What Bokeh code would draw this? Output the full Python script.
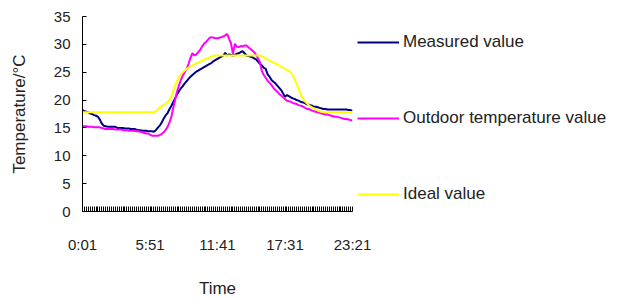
from bokeh.plotting import figure
from bokeh.models import Range1d, FixedTicker, Legend, LegendItem
from bokeh.embed import file_html
from bokeh.resources import INLINE

# --- data (10-minute samples from 0:01 to 23:21) ---
times = [f"{(1 + 10 * i) // 60}:{(1 + 10 * i) % 60:02d}" for i in range(141)]
tick_labels = ["0:01", "5:51", "11:41", "17:31", "23:21"]

measured = [
    18.2, 18.0, 17.9, 17.8, 17.6, 17.5, 17.3, 17.2,
    17.0, 16.5, 15.8, 15.4,
    15.3, 15.2, 15.2, 15.2, 15.2, 15.2, 15.0, 15.0, 15.0, 15.0, 14.9, 14.9, 14.9, 14.8,
    14.8, 14.8, 14.7, 14.6, 14.6, 14.5, 14.5, 14.5, 14.4, 14.4, 14.4, 14.3,
    14.6, 15.0, 15.4, 15.9, 16.6, 17.2, 17.6, 18.3, 18.9, 19.6,
    20.3, 21.0, 21.6, 22.1, 22.5, 23.0, 23.4, 23.8, 24.2, 24.5,
    24.8, 25.1, 25.3, 25.5, 25.7, 25.9, 26.1, 26.3, 26.5, 26.7,
    27.0, 27.2, 27.4, 27.6, 27.8, 28.0, 28.5, 28.0, 28.2, 28.1,
    28.0, 28.1, 28.3, 28.4, 28.6, 28.8, 28.4, 28.0, 27.9, 27.8,
    27.7, 27.5, 27.3, 26.9, 26.5, 26.2, 25.8, 25.6, 24.6, 24.2,
    23.6, 23.3, 23.0, 22.6, 22.2, 21.8, 21.2, 20.6, 20.9, 20.7,
    20.5, 20.3, 20.2, 20.0, 19.9, 19.7, 19.6, 19.5, 19.3, 19.2,
    19.1, 19.0, 18.8, 18.8, 18.7, 18.6, 18.5, 18.4, 18.4, 18.3,
    18.3, 18.3, 18.3, 18.3, 18.3, 18.3, 18.3, 18.3, 18.3, 18.3, 18.2, 18.2, 18.1,
]

outdoor = [
    15.3, 15.3, 15.3, 15.2, 15.2, 15.2, 15.1, 15.1, 15.1, 15.1,
    15.0, 14.9, 14.8, 14.8, 14.8, 14.8, 14.8, 14.7, 14.7, 14.7,
    14.7, 14.6, 14.6, 14.6, 14.5, 14.5, 14.5, 14.5, 14.4, 14.4,
    14.3, 14.2, 14.1, 14.0, 14.0, 13.8, 13.6, 13.6, 13.6, 13.6,
    13.7, 13.9, 14.2, 14.6, 15.1, 15.9, 16.9, 18.5, 20.0, 21.5,
    22.6, 23.6, 24.4, 25.0, 25.6, 26.5, 27.6, 28.4, 28.0, 28.2,
    28.6, 29.0, 29.6, 30.1, 30.4, 30.8, 31.2, 31.3, 31.2, 31.1,
    31.1, 31.2, 31.3, 31.4, 31.6, 31.9, 31.0, 30.2, 28.3, 30.1,
    29.6, 29.5, 29.7, 29.6, 29.8, 29.8, 29.5, 29.2, 28.9, 28.6,
    28.1, 27.5, 26.8, 25.2, 24.5, 24.0, 23.5, 23.1, 22.7, 22.2,
    21.8, 21.5, 21.1, 20.8, 20.5, 20.2, 19.9, 19.8, 19.7, 19.5,
    19.4, 19.3, 19.1, 19.0, 18.9, 18.7, 18.5, 18.4, 18.3, 18.1,
    18.0, 17.9, 17.8, 17.7, 17.6, 17.5, 17.4, 17.4, 17.3, 17.2,
    17.1, 17.0, 17.0, 16.9, 16.8, 16.7, 16.6, 16.6, 16.5, 16.4, 16.4,
]

ideal = [
    17.8, 17.8, 17.8, 17.8, 17.8, 17.8, 17.8, 17.8, 17.8, 17.8,
    17.8, 17.8, 17.8, 17.8, 17.8, 17.8, 17.8, 17.8, 17.8, 17.8,
    17.8, 17.8, 17.8, 17.8, 17.8, 17.8, 17.8, 17.8, 17.8, 17.8,
    17.8, 17.8, 17.8, 17.8, 17.8, 17.8, 17.8, 17.8, 18.0, 18.3,
    18.6, 18.9, 19.1, 19.3, 19.6, 19.9, 20.6, 21.6, 22.6, 23.4,
    24.1, 24.7, 25.0, 25.3, 25.6, 25.8, 26.0, 26.2, 26.4, 26.6,
    26.7, 26.9, 27.0, 27.2, 27.4, 27.5, 27.7, 27.8, 28.0, 28.0,
    28.0, 28.0, 28.0, 28.0, 28.0, 28.0, 28.0, 28.0, 28.0, 28.0,
    28.0, 28.0, 28.0, 28.0, 28.0, 28.0, 28.0, 28.0, 28.0, 28.0,
    28.0, 28.0, 28.0, 27.9, 27.7, 27.5, 27.3, 27.1, 26.9, 26.7,
    26.6, 26.4, 26.2, 26.0, 25.8, 25.6, 25.4, 25.2, 25.0, 24.5,
    23.7, 22.9, 22.0, 21.1, 20.4, 19.9, 19.5, 19.2, 18.9, 18.7,
    18.5, 18.3, 18.1, 18.0, 17.9, 17.8, 17.8, 17.8, 17.8, 17.8,
    17.8, 17.8, 17.8, 17.8, 17.8, 17.8, 17.8, 17.8, 17.8, 17.8, 17.8,
]

y_ticks = [0, 5, 10, 15, 20, 25, 30, 35]

FONT = "Liberation Sans"
TICK_FS = "15px"
FS = "17px"
TXT = "#222222"

x = list(range(len(times)))

p = figure(frame_width=270, frame_height=195, output_backend="svg",
           toolbar_location=None,
           x_range=Range1d(0, len(times) - 1), y_range=Range1d(0, 35),
           min_border_left=82, min_border_right=10, min_border_top=16,
           min_border_bottom=10)
p.outline_line_color = None
p.xgrid.visible = False
p.ygrid.visible = False
p.background_fill_color = "white"
p.border_fill_color = "white"

r_meas = p.line(x, measured, line_color="#000080", line_width=2)
r_out = p.line(x, outdoor, line_color="#FF00FF", line_width=2)
r_ideal = p.line(x, ideal, line_color="#FFFF00", line_width=2)

# x axis: a tick at every sample, labels every 35 samples
xa = p.xaxis[0]
xa.ticker = FixedTicker(ticks=x)
overrides = {i: "" for i in x}
for lab in tick_labels:
    overrides[times.index(lab)] = lab
xa.major_label_overrides = overrides
xa.major_tick_in = 5
xa.major_tick_out = 0
xa.minor_tick_line_color = None
xa.axis_line_color = "black"
xa.major_tick_line_color = "black"
xa.major_label_standoff = 24
xa.major_label_text_font = FONT
xa.major_label_text_font_size = TICK_FS
xa.major_label_text_color = TXT
xa.axis_label = "Time"
xa.axis_label_standoff = 23
xa.axis_label_text_font = FONT
xa.axis_label_text_font_size = FS
xa.axis_label_text_font_style = "normal"
xa.axis_label_text_color = TXT

ya = p.yaxis[0]
ya.ticker = FixedTicker(ticks=y_ticks)
ya.major_tick_in = 4
ya.major_tick_out = 0
ya.minor_tick_line_color = None
ya.axis_line_color = "black"
ya.major_tick_line_color = "black"
ya.major_label_standoff = 12
ya.major_label_text_font = FONT
ya.major_label_text_font_size = TICK_FS
ya.major_label_text_color = TXT
ya.axis_label = "Temperature/°C"
ya.axis_label_standoff = 22
ya.axis_label_text_font = FONT
ya.axis_label_text_font_size = FS
ya.axis_label_text_font_style = "normal"
ya.axis_label_text_color = TXT

legend = Legend(items=[
    LegendItem(label="Measured value", renderers=[r_meas]),
    LegendItem(label="Outdoor temperature value", renderers=[r_out]),
    LegendItem(label="Ideal value", renderers=[r_ideal]),
], location="top_left")
legend.margin = 5
legend.padding = 10
legend.border_line_color = None
legend.background_fill_alpha = 0
legend.glyph_width = 42
legend.glyph_height = 42
legend.label_height = 42
legend.spacing = 34
legend.label_standoff = 4
legend.label_text_font = FONT
legend.label_text_font_size = FS
legend.label_text_color = TXT
p.add_layout(legend, "right")

open("out.html", "w").write(file_html(p, INLINE))
